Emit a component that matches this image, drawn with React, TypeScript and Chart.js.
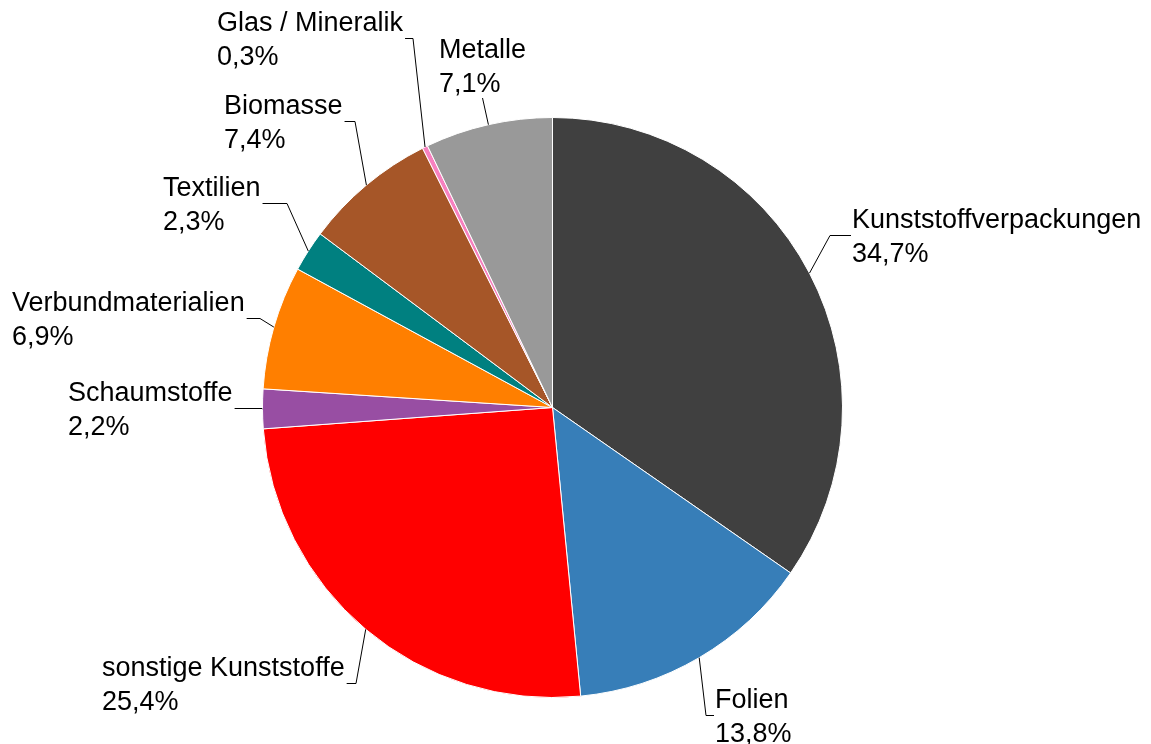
import React, { useEffect, useRef } from "react";
import { Chart, registerables } from "chart.js";

Chart.register(...registerables);

// ---- data ----
const categories = [
  "Kunststoffverpackungen",
  "Folien",
  "sonstige Kunststoffe",
  "Schaumstoffe",
  "Verbundmaterialien",
  "Textilien",
  "Biomasse",
  "Glas / Mineralik",
  "Metalle",
];
const shares = [34.7, 13.8, 25.4, 2.2, 6.9, 2.3, 7.4, 0.3, 7.1];
const percentLabels = ["34,7%", "13,8%", "25,4%", "2,2%", "6,9%", "2,3%", "7,4%", "0,3%", "7,1%"];

// ---- styles ----
const sliceColors = [
  "#404040",
  "#377EB8",
  "#FF0000",
  "#984EA3",
  "#FF7F00",
  "#008080",
  "#A65628",
  "#F781BF",
  "#999999",
];

// label layout: x = text left, y = first baseline, elbowX = x of leader elbow
const labelLayout = [
  { x: 852, y: 228, elbowX: 830, side: "right" },
  { x: 715, y: 708, elbowX: 706, side: "right" },
  { x: 102, y: 676, elbowX: 356, side: "left" },
  { x: 68, y: 401, elbowX: 262, side: "left" },
  { x: 12, y: 311, elbowX: 260, side: "left" },
  { x: 163, y: 196, elbowX: 287, side: "left" },
  { x: 224, y: 114, elbowX: 355, side: "left" },
  { x: 217, y: 31, elbowX: 413, side: "left" },
  { x: 439, y: 58, elbowX: null, side: "below" },
];

const FONT = "27px 'Liberation Sans', Arial, Helvetica, sans-serif";
const LINE_H = 34;

const leaderLabels = {
  id: "leaderLabels",
  afterDraw(chart: any) {
    const ctx = chart.ctx as CanvasRenderingContext2D;
    const meta = chart.getDatasetMeta(0);
    ctx.save();
    ctx.font = FONT;
    ctx.fillStyle = "#000000";
    ctx.strokeStyle = "#000000";
    ctx.lineWidth = 1;
    ctx.textBaseline = "alphabetic";
    ctx.textAlign = "left";
    meta.data.forEach((arc: any, i: number) => {
      const p = arc.getProps(["x", "y", "startAngle", "endAngle", "outerRadius"], true);
      const mid = (p.startAngle + p.endAngle) / 2;
      const sx = p.x + Math.cos(mid) * p.outerRadius;
      const sy = p.y + Math.sin(mid) * p.outerRadius;
      const lay = labelLayout[i];
      const l1 = categories[i];
      const l2 = percentLabels[i];
      const w1 = ctx.measureText(l1).width;
      ctx.fillText(l1, lay.x, lay.y);
      ctx.fillText(l2, lay.x, lay.y + LINE_H);
      ctx.beginPath();
      if (lay.side === "below") {
        ctx.moveTo(sx, sy);
        ctx.lineTo(lay.x + w1 / 2, lay.y + LINE_H + 6);
      } else {
        const hy = lay.y + 7.5;
        const ax = lay.side === "right" ? lay.x - 1 : lay.x + w1 + 2;
        ctx.moveTo(sx, sy);
        ctx.lineTo(lay.elbowX as number, hy);
        ctx.lineTo(ax, hy);
      }
      ctx.stroke();
    });
    ctx.restore();
  },
};

export default function App() {
  const ref = useRef<HTMLCanvasElement | null>(null);
  useEffect(() => {
    let chart: Chart | null = null;
    let cancelled = false;
    const make = () => {
      if (cancelled || !ref.current) return;
      chart = new Chart(ref.current, {
        type: "pie",
        data: {
          labels: categories,
          datasets: [
            {
              data: shares,
              backgroundColor: sliceColors,
              borderColor: "#ffffff",
              borderWidth: 1,
              hoverOffset: 0,
            },
          ],
        },
        options: {
          responsive: false,
          animation: false,
          devicePixelRatio: 1,
          layout: { padding: { left: 262, right: 308, top: 117, bottom: 46 } },
          plugins: {
            legend: { display: false },
            tooltip: { enabled: false },
          },
        },
        plugins: [leaderLabels],
      });
    };
    const fonts = (document as any).fonts;
    if (fonts && fonts.load) {
      fonts.load(FONT).then(make, make);
    } else {
      make();
    }
    return () => {
      cancelled = true;
      if (chart) chart.destroy();
    };
  }, []);
  return (
    <div style={{ position: "fixed", left: 0, top: 0, width: 1151, height: 744, background: "#fff" }}>
      <canvas ref={ref} width={1151} height={744} />
    </div>
  );
}
